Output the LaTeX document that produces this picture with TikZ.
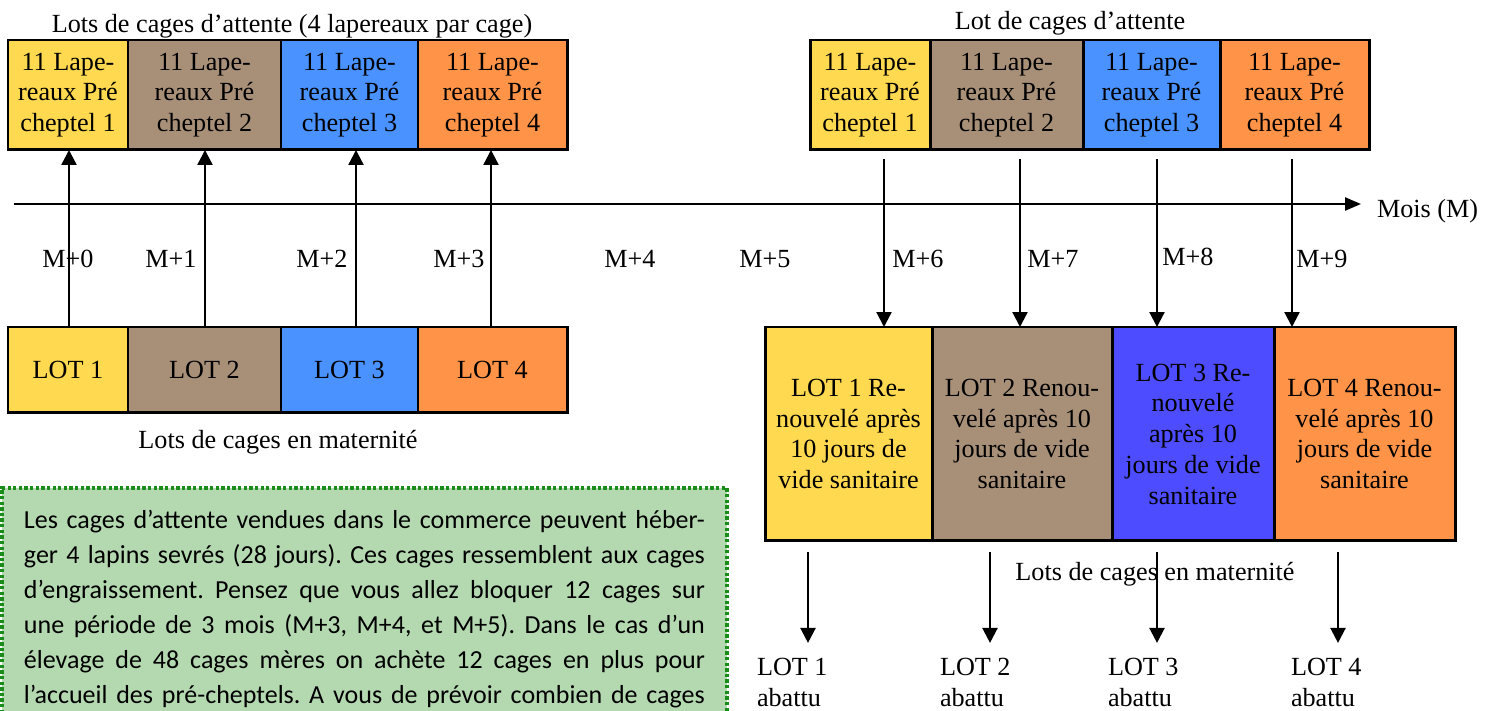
\documentclass[tikz,border=0pt]{standalone}
\usepackage{fontspec}
\setmainfont{Liberation Serif}
\newfontfamily\calibri{Carlito}
\usetikzlibrary{arrows.meta,positioning}
\definecolor{jaune}{HTML}{FFD94F}
\definecolor{brun}{HTML}{A89078}
\definecolor{bleu}{HTML}{4A92FF}
\definecolor{bleufonce}{HTML}{4D4DFF}
\definecolor{orangec}{HTML}{FF9448}
\definecolor{vertclair}{HTML}{B4D9B0}
\definecolor{vertfonce}{HTML}{1A8C1A}
\newcommand{\grand}{\fontsize{14.9}{17.5}\selectfont}
\newcommand{\petit}{\calibri\fontsize{14.8}{19.9}\selectfont\frenchspacing}
\tikzset{
  cellule/.style={draw, line width=1.7pt, inner sep=0pt, outer sep=0pt, align=center, anchor=north west},
  texte/.style={inner sep=0pt, outer sep=0pt},
  fleche/.style={line width=1.3pt, -{Triangle[width=0.3cm,length=0.3cm]}},
  note/.style={draw=vertfonce, fill=vertclair, line width=1.9pt, dash pattern=on 1.9pt off 1.3pt,
    outer sep=0pt, inner xsep=0.44cm, inner ysep=0.45cm, text width=13.62cm, align=justify,
    font=\petit, text depth=5cm, anchor=north west},
}

\begin{document}
\begin{tikzpicture}[x=0.02cm, y=-0.02cm, font=\grand]
\clip (0,0) rectangle (1491,710);

% cages d'attente (haut) et lots en maternite (gauche)
\foreach \i/\x/\w/\coul in {1/8/120/jaune, 2/128/153/brun, 3/281/137/bleu, 4/418/149/orangec}{
  \node[cellule, fill=\coul, minimum width=\w*0.02cm, minimum height=2.2cm] (c\i) at (\x,40) {11 Lape-\\reaux Pré\\cheptel \i};
  \node[cellule, fill=\coul, minimum width=\w*0.02cm, minimum height=2.2cm] (r\i) at (\x+802,40) {11 Lape-\\reaux Pré\\cheptel \i};
  \node[cellule, fill=\coul, minimum width=\w*0.02cm, minimum height=1.72cm] (l\i) at (\x,327) {LOT \i};
}
\node[texte, anchor=base] (titre1) at (292,32) {Lots de cages d’attente (4 lapereaux par cage)};
\node[texte, anchor=base] (titre2) at (1070,30) {Lot de cages d’attente};
\node[texte, anchor=base] (mat1) at (278,448) {Lots de cages en maternité};

% lots renouveles (droite)
\foreach \i/\x/\w/\coul/\txt in {1/765/167/jaune/{LOT 1 Re-\\nouvelé après\\10 jours de\\vide sanitaire},
    2/932/180/brun/{LOT 2 Renou-\\velé après 10\\jours de vide\\sanitaire},
    3/1112/162/bleufonce/{LOT 3 Re-\\nouvelé\\après 10\\jours de vide\\sanitaire},
    4/1274/181/orangec/{LOT 4 Renou-\\velé après 10\\jours de vide\\sanitaire}}{
  \node[cellule, fill=\coul, minimum width=\w*0.02cm, minimum height=4.28cm] (m\i) at (\x,327) {\txt};
}
\node[texte, anchor=base] (mat2) at (1155,580) {Lots de cages en maternité};

% axe des mois
\coordinate (axe) at (14,204);
\node[texte, anchor=base west] (mois) at (1377,217) {Mois (M)};
\draw[line width=1.3pt, -{Triangle[width=0.26cm,length=0.32cm]}, shorten >=0.32cm] (axe) -- (axe -| mois.west);
\foreach \x/\t in {68/0, 171/1, 322/2, 459/3, 630/4, 765/5, 918/6, 1053/7, 1322/9}
  \node[texte, anchor=base] (mm\t) at (\x,267) {M+\t};
\node[texte, anchor=base] (mm8) at (1188,265) {M+8};

% fleches
\foreach \i/\x in {1/69, 2/205, 3/356, 4/491}{
  \coordinate (u\i) at (\x,0);
  \draw[fleche] (u\i |- l\i.north) -- (u\i |- c\i.south);
}
\foreach \i/\x in {1/884, 2/1020, 3/1157, 4/1292}{
  \coordinate (v\i) at (\x,0);
  \draw[fleche, shorten <=0.18cm] (v\i |- r\i.south) -- (v\i |- m\i.north);
}
\foreach \i/\x/\a in {1/808/757, 2/990/940, 3/1157/1108, 4/1338/1291}{
  \node[texte, align=left, anchor=base west] (ab\i) at (\a,706) {LOT \i\\abattu};
  \coordinate (d\i) at (\x,0);
  \draw[fleche, shorten <=0.22cm, shorten >=0.3cm] (d\i |- m\i.south) -- (d\i |- ab\i.north);
}

% encadre
\node[note] (encadre) at (2,488) {Les cages d’attente vendues dans le commerce peuvent héber-\linebreak
ger 4 lapins sevrés (28 jours). Ces cages ressemblent aux cages\linebreak
d’engraissement. Pensez que vous allez bloquer 12 cages sur\linebreak
une période de 3 mois (M+3, M+4, et M+5). Dans le cas d’un\linebreak
élevage de 48 cages mères on achète 12 cages en plus pour\linebreak
l’accueil des pré-cheptels. A vous de prévoir combien de cages\linebreak\null};
\end{tikzpicture}
\end{document}
